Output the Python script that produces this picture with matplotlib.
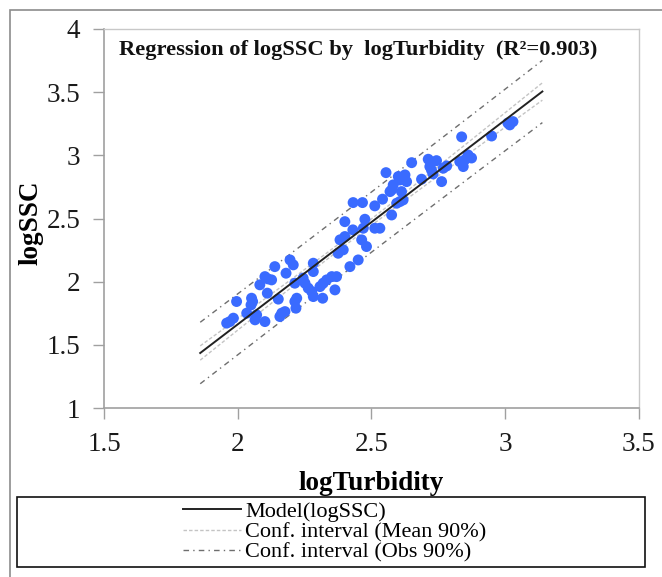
import numpy as np
import matplotlib
matplotlib.use("Agg")
import matplotlib.pyplot as plt
from matplotlib.patches import Rectangle
from matplotlib.lines import Line2D

# ---------------- data ----------------
log_turbidity = [
    2.139, 2.196, 2.208, 2.181, 2.102, 2.113, 2.127, 2.083, 2.111, 2.152,
    2.052, 2.056, 2.050, 1.996, 2.034, 2.071, 2.065, 2.102, 1.984, 1.971,
    1.959, 2.165, 2.158, 2.177, 2.221, 2.214, 2.218, 2.214, 2.245, 2.252,
    2.264, 2.283, 2.283, 2.277, 2.283, 2.318, 2.308, 2.320, 2.333, 2.352,
    2.370, 2.364, 2.376, 2.395, 2.383, 2.401, 2.420, 2.451, 2.464, 2.482,
    2.401, 2.431, 2.838, 2.950, 3.018, 3.030, 3.011, 2.651, 2.713, 2.744,
    2.719, 2.725, 2.731, 2.763, 2.769, 2.782, 2.831, 2.844, 2.862, 2.875,
    2.850, 2.555, 2.601, 2.626, 2.632, 2.607, 2.582, 2.576, 2.570, 2.688,
    2.613, 2.619, 2.607, 2.595, 2.542, 2.513, 2.432, 2.467, 2.576, 2.476,
    2.470, 2.513, 2.532,
]
log_ssc = [
    2.119, 2.172, 2.133, 2.067, 2.040, 2.022, 2.014, 1.975, 1.909, 1.862,
    1.869, 1.843, 1.816, 1.843, 1.751, 1.737, 1.698, 1.684, 1.711, 1.684,
    1.672, 1.751, 1.724, 1.763, 1.869, 1.843, 1.790, 1.988, 2.028, 1.988,
    1.949, 2.146, 2.080, 1.922, 1.882, 1.869, 1.961, 1.988, 2.014, 2.040,
    2.040, 1.935, 2.225, 2.252, 2.331, 2.357, 2.119, 2.172, 2.331, 2.278,
    2.475, 2.410, 3.146, 3.153, 3.241, 3.267, 3.256, 2.942, 2.969, 2.958,
    2.911, 2.884, 2.853, 2.792, 2.898, 2.916, 2.950, 2.911, 3.003, 2.979,
    2.964, 2.863, 2.832, 2.845, 2.792, 2.805, 2.766, 2.726, 2.713, 2.811,
    2.713, 2.647, 2.634, 2.621, 2.653, 2.600, 2.626, 2.626, 2.528, 2.494,
    2.423, 2.423, 2.423,
]
model_x_range = [1.86, 3.14]
x_ticks = [1.5, 2, 2.5, 3, 3.5]
y_ticks = [1, 1.5, 2, 2.5, 3, 3.5, 4]
t_90 = 1.662  # Student t quantile (0.95, n-2 dof)
r2_label = "0.903"
legend_labels = ["Model(logSSC)", "Conf. interval (Mean 90%)",
                 "Conf. interval (Obs 90%)"]

# ---------------- model ----------------
x = np.asarray(log_turbidity)
y = np.asarray(log_ssc)
n = len(x)
slope, intercept = np.polyfit(x, y, 1)
resid = y - (intercept + slope * x)
s = np.sqrt(np.sum(resid ** 2) / (n - 2))
xm = x.mean()
sxx = np.sum((x - xm) ** 2)
xs = np.linspace(model_x_range[0], model_x_range[1], 200)
ys = intercept + slope * xs
h_mean = t_90 * s * np.sqrt(1.0 / n + (xs - xm) ** 2 / sxx)
h_obs = t_90 * s * np.sqrt(1.0 + 1.0 / n + (xs - xm) ** 2 / sxx)

# ---------------- figure ----------------
plt.rcParams["font.family"] = ["Liberation Serif", "DejaVu Serif"]
W, H = 662, 577
fig = plt.figure(figsize=(W / 100, H / 100), dpi=100)

# outer frame
fig.patches.append(Rectangle((10 / W, -0.2), 1.3, 1.2 - 10 / H,
                             transform=fig.transFigure, fill=False,
                             edgecolor="#8c8c8c", lw=1.2, clip_on=False))

ax = fig.add_axes([104 / W, 1 - 408 / H, (638.6 - 104) / W, (408 - 29) / H])

mean_style = dict(color="#c4c4c4", lw=1.0, ls=(0, (2.5, 1.5)))
obs_style = dict(color="#6e6e6e", lw=1.0, ls=(0, (4, 3, 1, 3)))

ax.plot(xs, ys + h_obs, **obs_style, zorder=2)
ax.plot(xs, ys - h_obs, **obs_style, zorder=2)
ax.plot(xs, ys + h_mean, **mean_style, zorder=2)
ax.plot(xs, ys - h_mean, **mean_style, zorder=2)
ax.scatter(x, y, s=62, color="#3a6bff", edgecolors="none", zorder=3)
ax.plot(xs, ys, color="#222222", lw=1.4, zorder=4)

ax.set_xlim(1.5, 3.5)
ax.set_ylim(1, 4)
ax.set_xticks(x_ticks)
ax.set_yticks(y_ticks)
ax.set_xticklabels([f"{v:g}" for v in x_ticks])
ax.set_yticklabels([f"{v:g}" for v in y_ticks])
ax.tick_params(axis="both", direction="out", length=8, width=1,
               color="#a0a0a0", labelsize=19.5, labelcolor="#1a1a1a")
ax.tick_params(axis="y", pad=9)
ax.tick_params(axis="x", pad=9)
for side in ["left", "bottom"]:
    ax.spines[side].set_color("#a0a0a0")
    ax.spines[side].set_linewidth(1.2)
for side in ["top", "right"]:
    ax.spines[side].set_color("#c8c8c8")
    ax.spines[side].set_linewidth(1.0)

ax.set_xlabel("logTurbidity", fontsize=19.5, fontweight="bold", labelpad=10)
ax.set_ylabel("logSSC", fontsize=19.5, fontweight="bold")
ax.yaxis.set_label_coords(-0.114, 0.49)

ax.text(0.028, 0.945,
        "Regression of logSSC by  logTurbidity  (R\u00b2=" + r2_label + ")",
        transform=ax.transAxes, fontsize=16.2, fontweight="bold",
        ha="left", va="center", color="#111111")

# legend
fig.patches.append(Rectangle((17 / W, 1 - 567 / H), (645 - 17) / W, 70 / H,
                             transform=fig.transFigure, fill=False,
                             edgecolor="#111111", lw=1.2))
handles = [
    Line2D([], [], color="#222222", lw=1.4),
    Line2D([], [], **mean_style),
    Line2D([], [], **obs_style),
]
fig.legend(handles, legend_labels, loc="center",
           bbox_to_anchor=(335 / W, 1 - 532 / H), frameon=False,
           fontsize=16, handlelength=2.6, handletextpad=0.2,
           labelspacing=0.0, borderpad=0)

fig.savefig("out.png", dpi=100)
